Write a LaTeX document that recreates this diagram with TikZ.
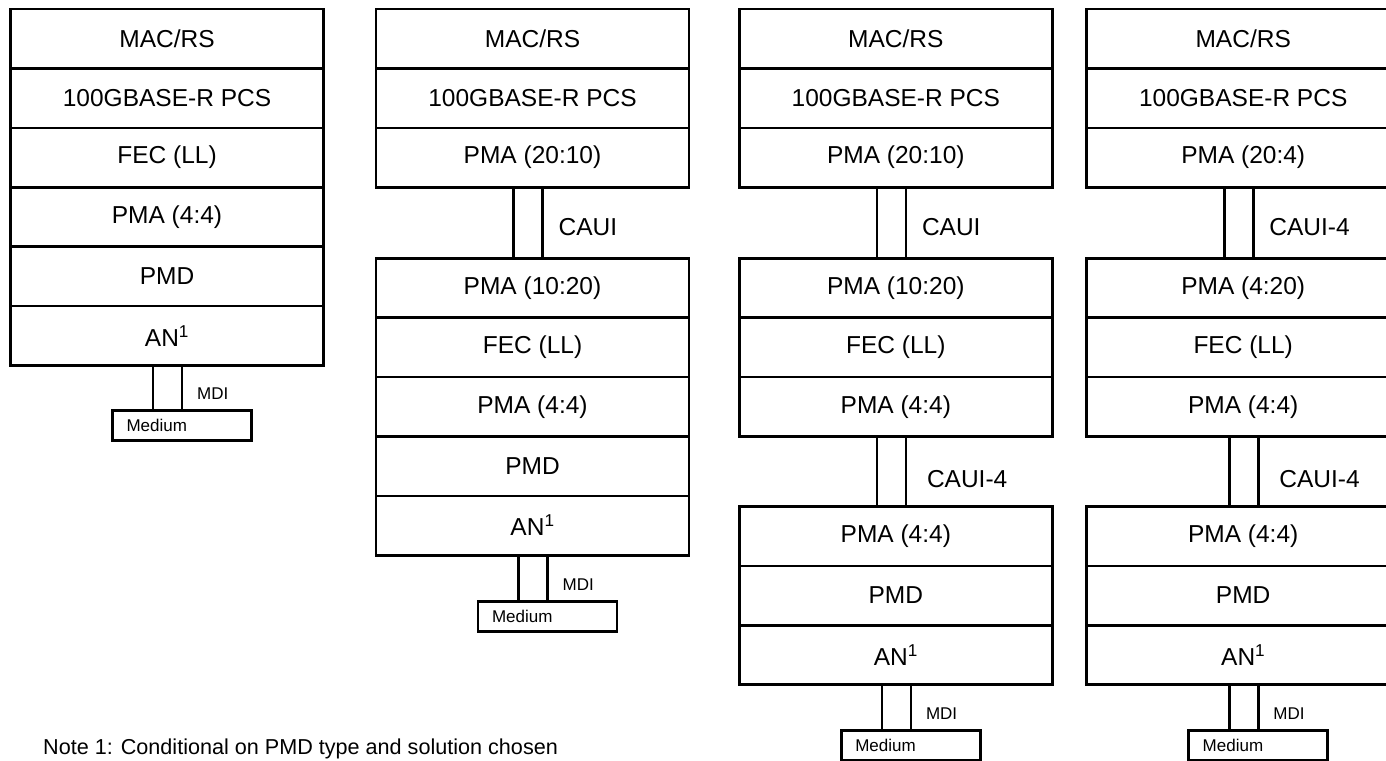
\documentclass[tikz,border=0pt]{standalone}
\usepackage{fontspec}
\setmainfont{Liberation Sans}
\usetikzlibrary{positioning,calc}
\begin{document}
\begin{tikzpicture}[x=1pt,y=-1pt,
  layer/.style={draw, line width=2.6pt, minimum width=313pt, minimum height=59.4pt,
    inner sep=0pt, outer sep=0pt, font=\fontsize{24.5}{28}\selectfont, anchor=north west},
  conn/.style={line width=2.6pt},
  medium/.style={draw, line width=2.6pt, minimum height=30pt, text width=111pt, inner xsep=14pt,
    inner ysep=0pt, outer sep=0pt, align=left, font=\fontsize{17}{20}\selectfont, anchor=north},
  small/.style={inner sep=0pt, font=\fontsize{17}{20}\selectfont, anchor=west},
  lbl/.style={inner sep=0pt, font=\fontsize{24.5}{28}\selectfont, anchor=west},
  notetext/.style={inner sep=0pt, font=\fontsize{21.6}{26}\selectfont, anchor=base west}]
\clip (0,0) rectangle (1386,760);
\fill[white] (0,0) rectangle (1386,760);

% ---------- column 1 ----------
\node[layer] (a1) at (10.5,9) {MAC/RS};
\node[layer,below=0pt of a1] (a2) {100GBASE-R PCS};
\node[layer,below=0pt of a2] (a3) {FEC (LL)};
\node[layer,below=0pt of a3] (a4) {PMA (4:4)};
\node[layer,below=0pt of a4] (a5) {PMD};
\node[layer,below=0pt of a5] (a6) {AN\textsuperscript{1}};
\node[medium] (ma) at ($(a6.south)+(15,45)$) {Medium};
\draw[conn] ($(a6.south)+(-14,0)$) -- ($(ma.north)+(-29,0)$);
\draw[conn] ($(a6.south)+(15,0)$) -- (ma.north);
\node[small] (mdia) at ($(a6.south)+(30,28)$) {MDI};

% ---------- column 2 ----------
\node[layer] (b1) at (376,9) {MAC/RS};
\node[layer,below=0pt of b1] (b2) {100GBASE-R PCS};
\node[layer,below=0pt of b2] (b3) {PMA (20:10)};
\node[layer,anchor=north] (b4) at ($(b3.south)+(0,71)$) {PMA (10:20)};
\node[layer,below=0pt of b4] (b5) {FEC (LL)};
\node[layer,below=0pt of b5] (b6) {PMA (4:4)};
\node[layer,below=0pt of b6] (b7) {PMD};
\node[layer,below=0pt of b7] (b8) {AN\textsuperscript{1}};
\draw[conn] ($(b3.south)+(-19,0)$) -- ($(b4.north)+(-19,0)$);
\draw[conn] ($(b3.south)+(10,0)$) -- ($(b4.north)+(10,0)$);
\node[lbl] (cauib) at ($(b3.south)+(26,40)$) {CAUI};
\node[medium] (mb) at ($(b8.south)+(15,46)$) {Medium};
\draw[conn] ($(b8.south)+(-14,0)$) -- ($(mb.north)+(-29,0)$);
\draw[conn] ($(b8.south)+(15,0)$) -- (mb.north);
\node[small] (mdib) at ($(b8.south)+(30,29)$) {MDI};

% ---------- column 3 ----------
\node[layer] (c1) at (739.3,9) {MAC/RS};
\node[layer,below=0pt of c1] (c2) {100GBASE-R PCS};
\node[layer,below=0pt of c2] (c3) {PMA (20:10)};
\node[layer,anchor=north] (c4) at ($(c3.south)+(0,71)$) {PMA (10:20)};
\node[layer,below=0pt of c4] (c5) {FEC (LL)};
\node[layer,below=0pt of c5] (c6) {PMA (4:4)};
\node[layer,anchor=north] (c7) at ($(c6.south)+(0,70)$) {PMA (4:4)};
\node[layer,below=0pt of c7] (c8) {PMD};
\node[layer,below=0pt of c8] (c9) {AN\textsuperscript{1}};
\draw[conn] ($(c3.south)+(-19,0)$) -- ($(c4.north)+(-19,0)$);
\draw[conn] ($(c3.south)+(10,0)$) -- ($(c4.north)+(10,0)$);
\node[lbl] (cauic) at ($(c3.south)+(26,40)$) {CAUI};
\draw[conn] ($(c6.south)+(-19,0)$) -- ($(c7.north)+(-19,0)$);
\draw[conn] ($(c6.south)+(10,0)$) -- ($(c7.north)+(10,0)$);
\node[lbl] (cauic4) at ($(c6.south)+(31,43)$) {CAUI-4};
\node[medium] (mc) at ($(c9.south)+(15,46)$) {Medium};
\draw[conn] ($(c9.south)+(-14,0)$) -- ($(mc.north)+(-29,0)$);
\draw[conn] ($(c9.south)+(15,0)$) -- (mc.north);
\node[small] (mdic) at ($(c9.south)+(30,29)$) {MDI};

% ---------- column 4 ----------
\node[layer] (d1) at (1086.7,9) {MAC/RS};
\node[layer,below=0pt of d1] (d2) {100GBASE-R PCS};
\node[layer,below=0pt of d2] (d3) {PMA (20:4)};
\node[layer,anchor=north] (d4) at ($(d3.south)+(0,71)$) {PMA (4:20)};
\node[layer,below=0pt of d4] (d5) {FEC (LL)};
\node[layer,below=0pt of d5] (d6) {PMA (4:4)};
\node[layer,anchor=north] (d7) at ($(d6.south)+(0,70)$) {PMA (4:4)};
\node[layer,below=0pt of d7] (d8) {PMD};
\node[layer,below=0pt of d8] (d9) {AN\textsuperscript{1}};
\draw[conn] ($(d3.south)+(-19,0)$) -- ($(d4.north)+(-19,0)$);
\draw[conn] ($(d3.south)+(10,0)$) -- ($(d4.north)+(10,0)$);
\node[lbl] (cauid) at ($(d3.south)+(26,40)$) {CAUI-4};
\draw[conn] ($(d6.south)+(-14,0)$) -- ($(d7.north)+(-14,0)$);
\draw[conn] ($(d6.south)+(15,0)$) -- ($(d7.north)+(15,0)$);
\node[lbl] (cauid4) at ($(d6.south)+(36,43)$) {CAUI-4};
\node[medium] (md) at ($(d9.south)+(15,46)$) {Medium};
\draw[conn] ($(d9.south)+(-14,0)$) -- ($(md.north)+(-29,0)$);
\draw[conn] ($(d9.south)+(15,0)$) -- (md.north);
\node[small] (mdid) at ($(d9.south)+(30,29)$) {MDI};

% ---------- note ----------
\node[notetext] (note) at (43,754) {Note 1: Conditional on PMD type and solution chosen};
\end{tikzpicture}
\end{document}
